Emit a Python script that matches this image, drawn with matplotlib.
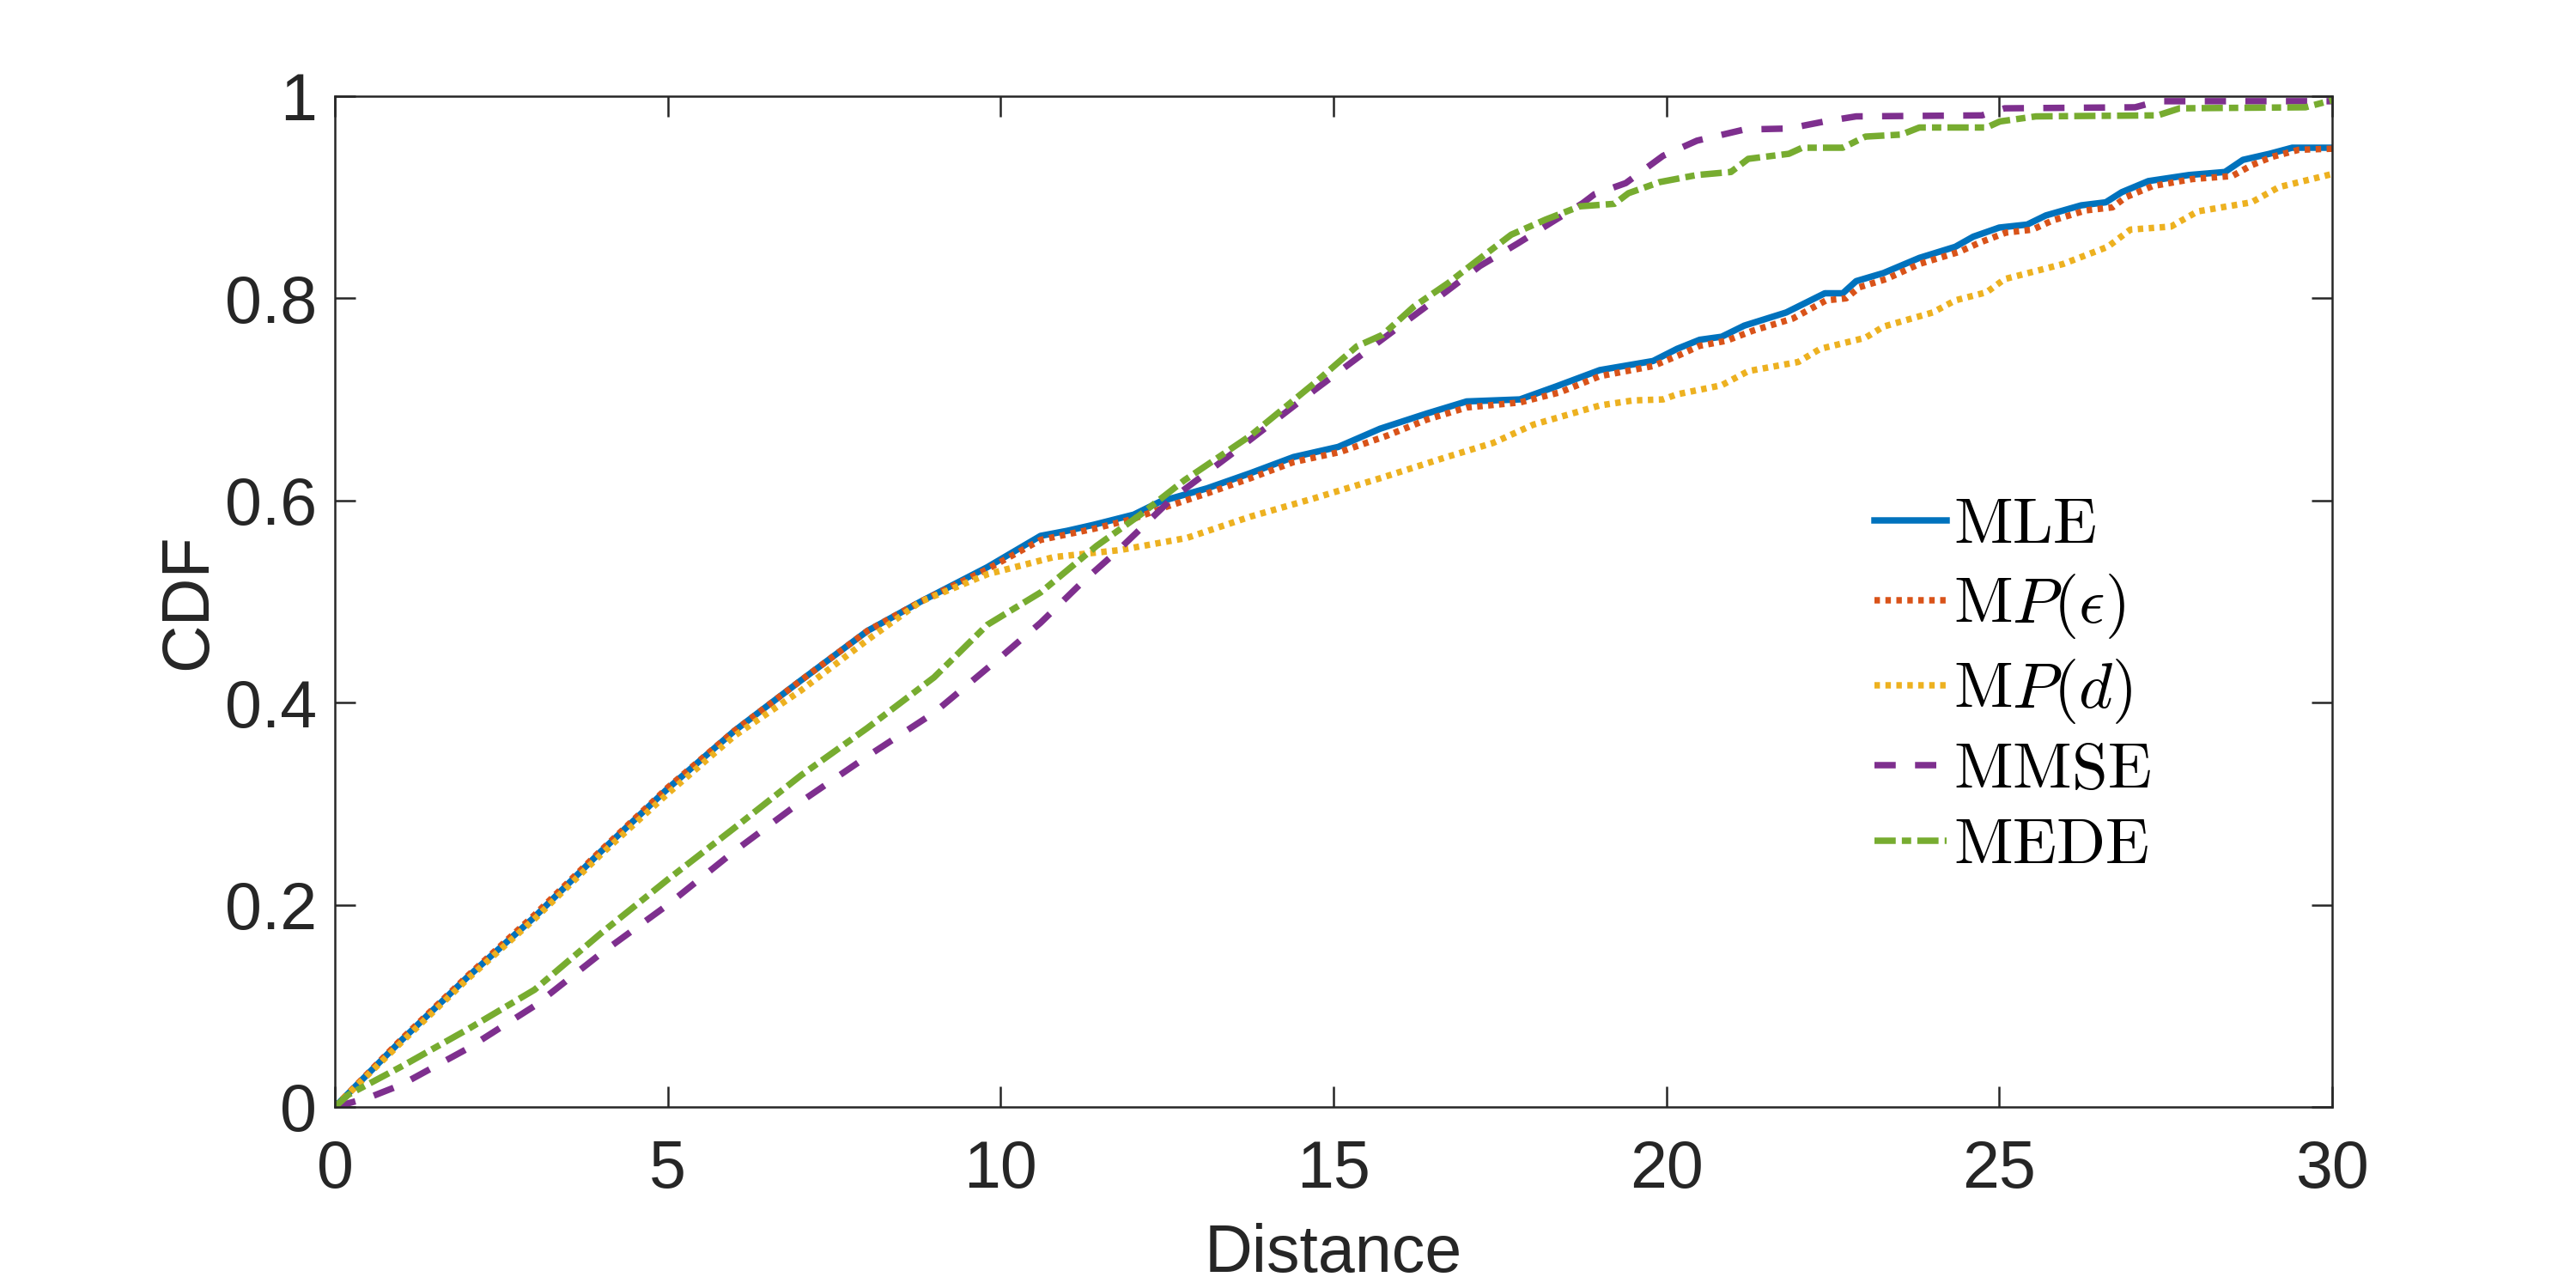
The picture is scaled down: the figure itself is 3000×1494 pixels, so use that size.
import matplotlib
matplotlib.use("Agg")
import matplotlib.pyplot as plt

plt.rcParams['font.family'] = ['Liberation Sans', 'DejaVu Sans']
plt.rcParams['mathtext.fontset'] = 'cm'

# ---------------- data ----------------
mle_x = [0, 1, 2, 3, 4, 5, 6, 7, 8, 8.8, 9.8, 10.6, 11.0, 11.4, 12.0, 12.4, 13.1, 13.75,
         14.4, 15.07, 15.7, 16.4, 17.0, 17.8, 18.35, 19.0, 19.8, 20.16, 20.5, 20.83, 21.17,
         21.8, 22.38, 22.65, 22.85, 23.26, 23.8, 24.34, 24.61, 25.0, 25.42, 25.7, 26.23,
         26.6, 26.84, 27.24, 27.85, 28.39, 28.66, 29.06, 29.4, 30]
mle_y = [0, 0.066, 0.129, 0.188, 0.253, 0.315, 0.372, 0.422, 0.471, 0.50, 0.534, 0.565,
         0.570, 0.576, 0.586, 0.599, 0.612, 0.627, 0.643, 0.653, 0.671, 0.686, 0.698, 0.700,
         0.713, 0.729, 0.738, 0.750, 0.759, 0.762, 0.773, 0.786, 0.805, 0.805, 0.817, 0.825,
         0.840, 0.851, 0.861, 0.870, 0.873, 0.882, 0.892, 0.895, 0.905, 0.916, 0.922, 0.925,
         0.937, 0.943, 0.949, 0.949]

mpe_x = [0, 1, 2, 3, 4, 5, 6, 7, 8, 8.8, 9.8, 10.6, 11.4, 12.0, 12.5, 13.1, 13.75, 14.4,
         15.1, 15.8, 16.4, 17.0, 17.8, 18.4, 19.0, 19.8, 20.2, 20.5, 20.9, 21.3, 21.9, 22.4,
         22.7, 22.9, 23.3, 23.8, 24.4, 24.7, 25.1, 25.5, 25.8, 26.3, 26.7, 26.9, 27.3, 27.9,
         28.5, 28.8, 29.1, 29.5, 30]
mpe_y = [0, 0.067, 0.130, 0.190, 0.254, 0.316, 0.372, 0.422, 0.471, 0.50, 0.532, 0.561,
         0.572, 0.582, 0.594, 0.607, 0.622, 0.638, 0.648, 0.664, 0.680, 0.692, 0.697, 0.707,
         0.723, 0.733, 0.744, 0.753, 0.758, 0.768, 0.780, 0.798, 0.800, 0.811, 0.819, 0.834,
         0.846, 0.855, 0.865, 0.868, 0.877, 0.887, 0.890, 0.900, 0.911, 0.918, 0.921, 0.932,
         0.940, 0.947, 0.948]

mpd_x = [0, 1, 2, 3, 4, 5, 6, 7, 8, 8.8, 9.8, 10.8, 11.8, 12.8, 13.75, 14.7, 15.7, 16.7,
         17.4, 18.0, 19.0, 19.5, 19.95, 20.16, 20.83, 21.23, 21.98, 22.31, 22.99, 23.26,
         24.0, 24.34, 24.81, 25.08, 25.96, 26.63, 26.97, 27.58, 27.98, 28.79, 29.2, 30]
mpd_y = [0, 0.064, 0.127, 0.186, 0.250, 0.310, 0.367, 0.412, 0.462, 0.50, 0.527, 0.544,
         0.551, 0.563, 0.584, 0.602, 0.622, 0.643, 0.657, 0.675, 0.694, 0.699, 0.700, 0.705,
         0.714, 0.728, 0.737, 0.750, 0.761, 0.772, 0.786, 0.798, 0.806, 0.819, 0.834, 0.851,
         0.868, 0.871, 0.886, 0.895, 0.910, 0.923]

mmse_x = [0, 0.5, 1, 2, 3, 4, 5, 6, 7, 8, 9, 10, 10.6, 11.24, 11.77, 12.56, 13.55, 14.73,
          15.54, 16.17, 16.68, 17.2, 17.76, 18.32, 18.74, 18.92, 19.39, 19.95, 20.46, 21.17,
          21.84, 22.38, 22.85, 24.74, 25.08, 27.04, 27.38, 30]
mmse_y = [0, 0.009, 0.022, 0.058, 0.100, 0.152, 0.200, 0.253, 0.302, 0.347, 0.390, 0.445,
          0.479, 0.520, 0.551, 0.601, 0.650, 0.710, 0.750, 0.781, 0.806, 0.832, 0.854, 0.877,
          0.894, 0.903, 0.914, 0.941, 0.956, 0.967, 0.968, 0.975, 0.980, 0.981, 0.988, 0.989,
          0.995, 0.995]

mede_x = [0, 0.2, 1, 2, 3, 4, 5, 6, 7, 8, 9, 9.8, 10.6, 11.44, 12.1, 12.76, 13.75, 14.73,
          15.35, 15.74, 16.21, 16.72, 17.15, 17.67, 18.19, 18.70, 19.22, 19.43, 19.9, 20.46,
          20.97, 21.23, 21.84, 22.04, 22.65, 22.99, 23.53, 23.8, 24.81, 25.01, 25.55, 27.38,
          27.71, 29.6, 30]
mede_y = [0, 0.012, 0.040, 0.077, 0.116, 0.172, 0.225, 0.276, 0.328, 0.375, 0.425, 0.477,
          0.509, 0.555, 0.586, 0.620, 0.664, 0.717, 0.7525, 0.764, 0.792, 0.815, 0.837, 0.863,
          0.878, 0.891, 0.8935, 0.904, 0.915, 0.922, 0.925, 0.938, 0.943, 0.949, 0.949, 0.960,
          0.962, 0.969, 0.969, 0.975, 0.980, 0.981, 0.988, 0.989, 0.996]

labels = [r'$\mathrm{MLE}$', r'$\mathrm{M}P(\epsilon)$', r'$\mathrm{M}P(d)$',
          r'$\mathrm{MMSE}$', r'$\mathrm{MEDE}$']
x_ticks = [0, 5, 10, 15, 20, 25, 30]
x_ticklabels = ['0', '5', '10', '15', '20', '25', '30']
y_ticks = [0, 0.2, 0.4, 0.6, 0.8, 1]
y_ticklabels = ['0', '0.2', '0.4', '0.6', '0.8', '1']

# ---------------- figure ----------------
fig = plt.figure(figsize=(10, 4.98), dpi=300)
ax = fig.add_axes([0.13, 0.13722, 0.77533, 0.78782])

lw = 1.8
C_BLUE, C_ORANGE, C_YELLOW, C_PURPLE, C_GREEN = '#0072BD', '#D95319', '#EDB120', '#7E2F8E', '#77AC30'

ax.plot(mle_x, mle_y, color=C_BLUE, lw=lw, ls='-', label=labels[0], solid_joinstyle='round')
ax.plot(mpe_x, mpe_y, color=C_ORANGE, lw=lw, dashes=(0.85, 0.85), dash_capstyle='butt', label=labels[1])
ax.plot(mpd_x, mpd_y, color=C_YELLOW, lw=lw, dashes=(0.85, 0.85), dash_capstyle='butt', label=labels[2])
ax.plot(mmse_x, mmse_y, color=C_PURPLE, lw=lw, dashes=(3.3, 3.0), dash_capstyle='butt', label=labels[3])
ax.plot(mede_x, mede_y, color=C_GREEN, lw=lw, dashes=(3.3, 0.95, 1.45, 0.95), dash_capstyle='butt', label=labels[4])

ax.set_xlim(0, 30)
ax.set_ylim(0, 1)
ax.set_xticks(x_ticks)
ax.set_xticklabels(x_ticklabels)
ax.set_yticks(y_ticks)
ax.set_yticklabels(y_ticklabels)

axc = '#262626'
for s in ax.spines.values():
    s.set_color(axc)
    s.set_linewidth(0.6)
ax.tick_params(axis='both', which='both', direction='in', length=5.8, width=0.6,
               colors=axc, labelsize=18.5, top=True, right=True)
ax.tick_params(axis='x', pad=9)
ax.tick_params(axis='y', pad=5)

ax.set_xlabel('Distance', fontsize=18.5, color=axc, labelpad=6)
ax.set_ylabel('CDF', fontsize=18.5, color=axc, labelpad=1.5)

leg = ax.legend(loc='center left', bbox_to_anchor=(0.7277, 0.4649),
                bbox_transform=fig.transFigure, frameon=False, fontsize=18,
                handlelength=1.12, handletextpad=0.1, borderpad=0, borderaxespad=0,
                labelspacing=0.25)

fig.savefig('out.png', dpi=300, facecolor='white')
